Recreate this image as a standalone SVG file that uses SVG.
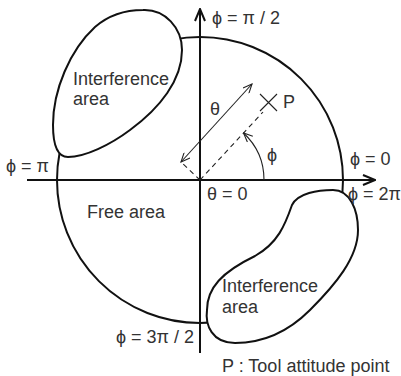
<svg xmlns="http://www.w3.org/2000/svg" width="401" height="376" viewBox="0 0 401 376">
<style>
.ax{stroke:#111;stroke-width:2;fill:none}
.ln{stroke:#222;stroke-width:1.1;fill:none}
.dash{stroke:#222;stroke-width:1.1;fill:none;stroke-dasharray:5 4}
.blob{stroke:#111;stroke-width:2;fill:#fff}
text{font-family:"Liberation Sans","DejaVu Sans",sans-serif;font-size:18px;fill:#333}
</style>
<defs>
<marker id="axArrow" markerUnits="userSpaceOnUse" viewBox="0 0 14 12" refX="13" refY="6" markerWidth="14" markerHeight="12" orient="auto">
<path d="M1,1 L13,6 L1,11" stroke="#111" stroke-width="2" fill="none"/>
</marker>
<marker id="thin" markerUnits="userSpaceOnUse" viewBox="0 0 11 9" refX="10" refY="4.5" markerWidth="11" markerHeight="9" orient="auto-start-reverse">
<path d="M1,0.5 L10,4.5 L1,8.5" stroke="#222" stroke-width="1.1" fill="none"/>
</marker>
</defs>
<rect width="401" height="376" fill="#fff"/>
<g id="circle">
<circle cx="200" cy="180" r="143" class="ax"/>
</g>
<g id="interference-top">
<path class="blob" d="M 143 10 C 165 9, 182 28, 182 50 C 182 80, 160 108, 130 130 C 110 145, 85 157, 68 157 C 55 157, 53 140, 53 125 C 53 90, 70 50, 95 27 C 110 14, 128 10, 143 10 Z"/>
<text x="73" y="85">Interference</text>
<text x="73" y="105">area</text>
</g>
<g id="interference-bottom">
<path class="blob" d="M 333 190 C 350 190, 358 210, 358 230 C 358 258, 335 285, 310 310 C 290 330, 265 343, 235 343 C 212 343, 205 325, 207 310 C 207 288, 222 272, 255 256 C 278 243, 285 225, 292 205 C 298 193, 318 190, 333 190 Z"/>
<text x="222" y="292">Interference</text>
<text x="222" y="313">area</text>
</g>
<g id="connectors">
<line class="ax" x1="27" y1="180" x2="375" y2="180" marker-end="url(#axArrow)"/>
<line class="ax" x1="200" y1="353" x2="200" y2="9" marker-end="url(#axArrow)"/>
<line class="dash" x1="200" y1="180" x2="263" y2="112"/>
<line class="dash" x1="200" y1="180" x2="181" y2="162"/>
<line class="ln" x1="181" y1="162" x2="252" y2="84" marker-start="url(#thin)" marker-end="url(#thin)"/>
<path class="ln" d="M 264 180 A 64 64 0 0 0 243.5 133" marker-end="url(#thin)"/>
</g>
<g id="point-P">
<path class="ln" d="M260 94 L277 111 M277 94 L260 111" stroke-width="1.4"/>
<text x="283" y="108">P</text>
</g>
<g id="labels">
<text x="210" y="115">θ</text>
<text x="267" y="161">ϕ</text>
<text x="212" y="24">ϕ = π / 2</text>
<text x="350" y="165">ϕ = 0</text>
<text x="348" y="200">ϕ = 2π</text>
<text x="207" y="200">θ = 0</text>
<text x="6" y="172">ϕ = π</text>
<text x="87" y="218">Free area</text>
<text x="116" y="343">ϕ = 3π / 2</text>
<text x="222" y="372">P : Tool attitude point</text>
</g>
</svg>
